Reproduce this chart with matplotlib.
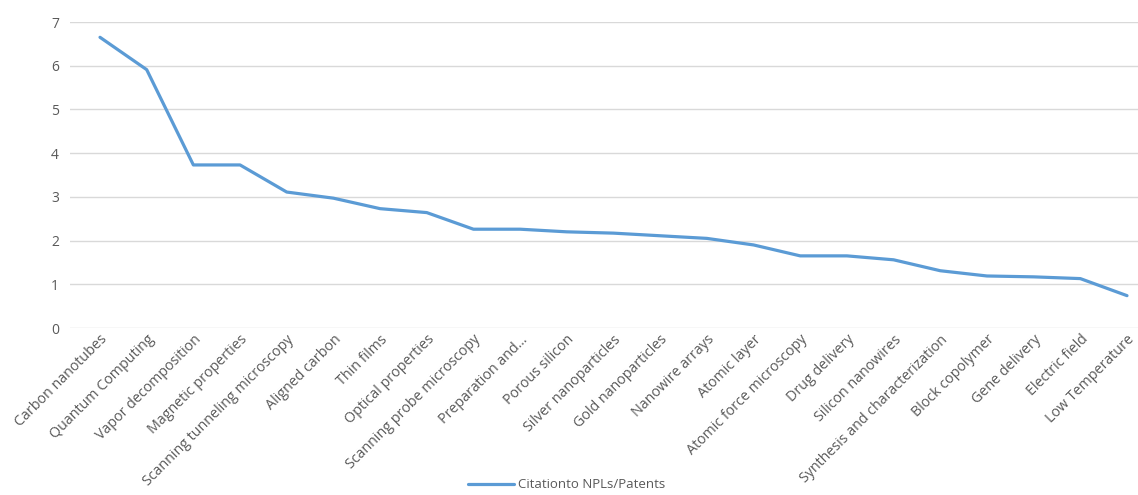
import matplotlib
matplotlib.use("Agg")
import matplotlib.pyplot as plt

categories = [
    "Carbon nanotubes", "Quantum Computing", "Vapor decomposition",
    "Magnetic properties", "Scanning tunneling microscopy", "Aligned carbon",
    "Thin films", "Optical properties", "Scanning probe microscopy",
    "Preparation and...", "Porous silicon", "Silver nanoparticles",
    "Gold nanoparticles", "Nanowire arrays", "Atomic layer",
    "Atomic force microscopy", "Drug delivery", "Silicon nanowires",
    "Synthesis and characterization", "Block copolymer", "Gene delivery",
    "Electric field", "Low Temperature",
]
values = [6.65, 5.91, 3.73, 3.73, 3.11, 2.97, 2.73, 2.64, 2.26, 2.26,
          2.20, 2.17, 2.11, 2.05, 1.90, 1.65, 1.65, 1.56, 1.31, 1.19,
          1.17, 1.13, 0.74]
series_name = "Citationto NPLs/Patents"
yticks = [0, 1, 2, 3, 4, 5, 6, 7]

plt.rcParams['font.family'] = ['Open Sans', 'DejaVu Sans']

W, H = 1138, 495
fig = plt.figure(figsize=(W / 100, H / 100), dpi=100)
left_px, right_px, top_px, bottom_px = 70, 1138, 22, 328
ax = fig.add_axes([left_px / W, 1 - bottom_px / H,
                   (right_px - left_px) / W, (bottom_px - top_px) / H])

x = list(range(len(categories)))
line, = ax.plot(x, values, color="#5B9BD5", linewidth=2.3,
                solid_joinstyle="round", solid_capstyle="round",
                label=series_name, clip_on=False)

step = (1127 - 100) / (len(categories) - 1)
ax.set_xlim(-(100 - left_px) / step, len(categories) - 1 + (right_px - 1127) / step)
ax.set_ylim(0, 7)
ax.set_yticks(yticks)
ax.set_yticklabels([str(t) for t in yticks])
ax.yaxis.grid(True, color="#D9D9D9", linewidth=1.0)
ax.set_axisbelow(True)
for s in ax.spines.values():
    s.set_visible(False)
ax.tick_params(axis="y", length=0, pad=8, labelsize=10, labelcolor="#595959")
ax.tick_params(axis="x", length=0, pad=3, labelsize=10.3, labelcolor="#595959")
ax.set_xticks(x)
ax.set_xticklabels(categories, rotation=45, ha="right", rotation_mode="anchor")

fig.legend(handles=[line], labels=[series_name], loc="center",
           bbox_to_anchor=(567 / W, 1 - 485 / H), frameon=False,
           fontsize=9.5, labelcolor="#595959", handlelength=3.5,
           handletextpad=0.3)

fig.savefig("out.png", dpi=100, facecolor="white")
